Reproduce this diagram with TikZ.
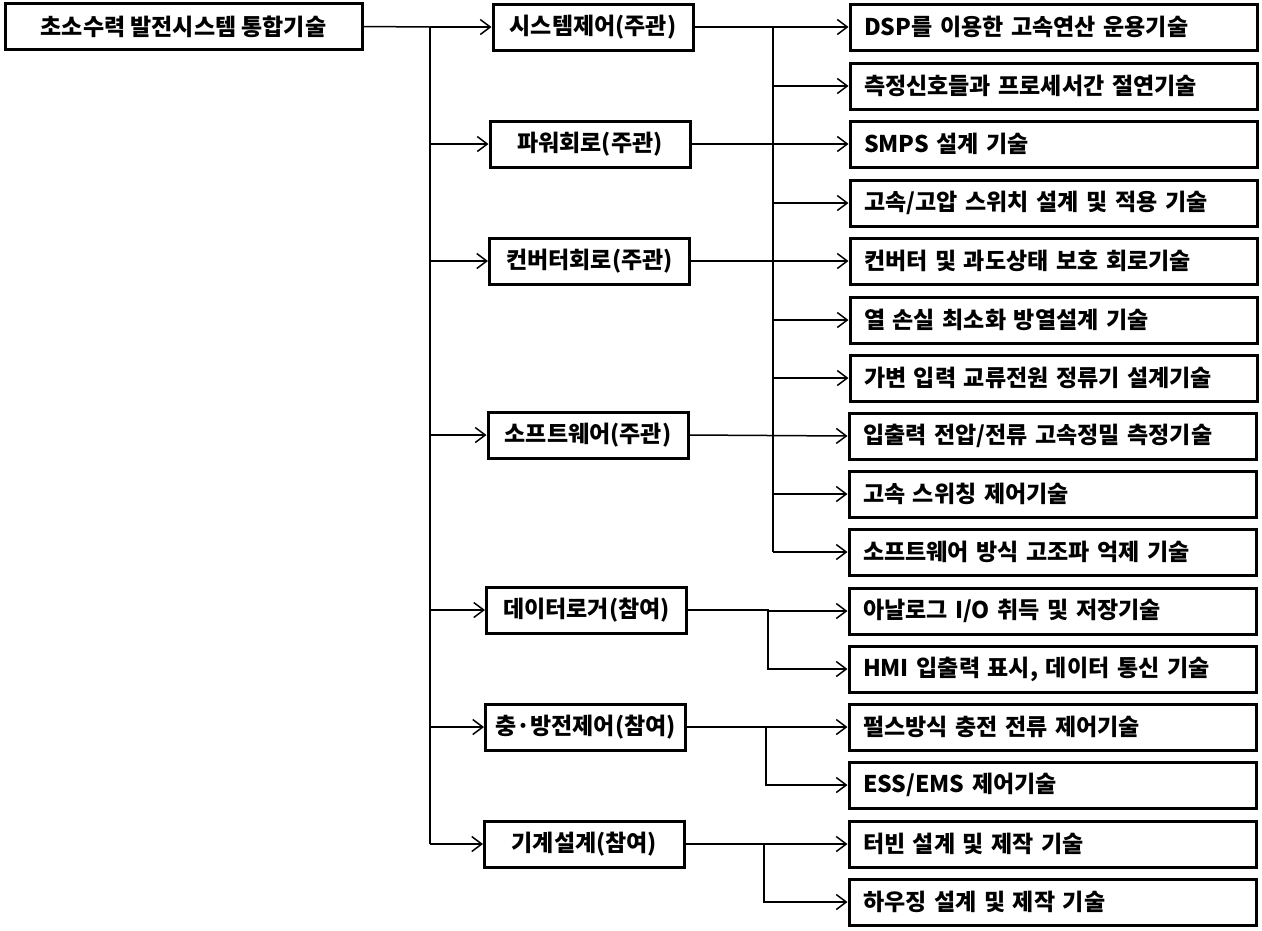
\documentclass[tikz,border=0pt]{standalone}
\usepackage{fontspec}
\setmainfont{Noto Sans CJK KR}
\usetikzlibrary{arrows.meta}
\begin{document}
\begin{tikzpicture}[x=1pt,y=-1pt,
  box/.style={draw=black, line width=3pt, fill=white, minimum height=46pt, font=\fontsize{23}{26}\selectfont\bfseries, inner sep=0pt},
  rootbox/.style={box, minimum width=357pt},
  midbox/.style={box, minimum width=200pt},
  leafbox/.style={box, minimum width=407pt, text width=379pt, align=left},
  conn/.style={line width=1.5pt, draw=black},
  arr/.style={conn, -{Straight Barb[length=10pt,width=15pt,line width=1.5pt]}}
]
\useasboundingbox (0,0) rectangle (1262,930);
% root
\node[rootbox] (root) at (183.5,26.5) {초소수력 발전시스템 통합기술};
% middle
\node[midbox] (sys)  at (593,27)  {시스템제어(주관)};
\node[midbox] (pow)  at (590,144) {파워회로(주관)};
\node[midbox] (conv) at (589.5,261) {컨버터회로(주관)};
\node[midbox] (soft) at (588,435) {소프트웨어(주관)};
\node[midbox] (data) at (586.5,610) {데이터로거(참여)};
\node[midbox] (chg)  at (585.5,727) {충·방전제어(참여)};
\node[midbox] (mech) at (584.5,844) {기계설계(참여)};
% leaves
\node[leafbox] (r1)  at (1053.5,27)  {DSP를 이용한 고속연산 운용기술};
\node[leafbox] (r2)  at (1053.5,86)  {측정신호들과 프로세서간 절연기술};
\node[leafbox] (r3)  at (1053.5,144) {SMPS 설계 기술};
\node[leafbox] (r4)  at (1053.5,203) {고속/고압 스위치 설계 및 적용 기술};
\node[leafbox] (r5)  at (1053.5,261) {컨버터 및 과도상태 보호 회로기술};
\node[leafbox] (r6)  at (1053.5,320) {열 손실 최소화 방열설계 기술};
\node[leafbox] (r7)  at (1053.5,378) {가변 입력 교류전원 정류기 설계기술};
\node[leafbox] (r8)  at (1052.5,436) {입출력 전압/전류 고속정밀 측정기술};
\node[leafbox] (r9)  at (1052.5,494) {고속 스위칭 제어기술};
\node[leafbox] (r10) at (1052.5,552) {소프트웨어 방식 고조파 억제 기술};
\node[leafbox] (r11) at (1052.5,611) {아날로그 I/O 취득 및 저장기술};
\node[leafbox] (r12) at (1052.5,669) {HMI 입출력 표시, 데이터 통신 기술};
\node[leafbox] (r13) at (1052.5,727) {펄스방식 충전 전류 제어기술};
\node[leafbox] (r14) at (1052.5,785) {ESS/EMS 제어기술};
\node[leafbox] (r15) at (1052.5,844) {터빈 설계 및 제작 기술};
\node[leafbox] (r16) at (1052.5,902) {하우징 설계 및 제작 기술};
% main trunk
\coordinate (T) at (430,27);
\draw[conn] (root.east) -- (T);
\draw[conn] (T) -- (T |- mech.west);
\foreach \m in {sys,pow,conv,soft,data,chg,mech}
  \draw[arr] (T |- \m.west) -- (\m.west);
% second trunk
\coordinate (S) at (773,27);
\draw[conn] (S |- r1.west) -- (S |- r10.west);
\draw[arr] (sys.east) -- (r1.west);
\draw[arr] (pow.east) -- (r3.west);
\draw[arr] (conv.east) -- (r5.west);
\draw[arr] (soft.east) -- (r8.west);
\foreach \r in {r2,r4,r6,r7,r9,r10}
  \draw[arr] (S |- \r.west) -- (\r.west);
% data logger
\coordinate (D) at (768,610);
\draw[arr] (data.east) -- (D) -- (D |- r11.west) -- (r11.west);
\draw[arr] (D) |- (r12.west);
% charge
\coordinate (C) at (766,727);
\draw[arr] (chg.east) -- (r13.west);
\draw[arr] (C) |- (r14.west);
% mech
\coordinate (M) at (764,844);
\draw[arr] (mech.east) -- (r15.west);
\draw[arr] (M) |- (r16.west);
\end{tikzpicture}
\end{document}
